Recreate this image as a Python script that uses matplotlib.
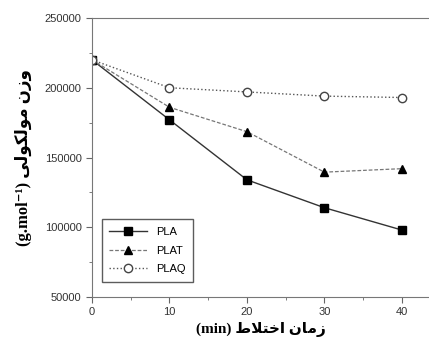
import matplotlib
matplotlib.use("Agg")
import matplotlib.pyplot as plt
from matplotlib.ticker import MultipleLocator

# data
mix_time = [0, 10, 20, 30, 40]
pla = [220000, 177000, 134000, 114000, 98000]
plat = [220000, 186000, 168500, 139500, 142000]
plaq = [220000, 200000, 197000, 194000, 193000]

# persian labels, pre-shaped (presentation forms) in visual order
ylab = "(g.mol\u207b\u00b9) " + "\ufbfd\ufedf\ufeee\ufb91\ufedf\ufeee\ufee3" + " " + "\ufee5\ufeaf\ufeed"
xlab = "(min) " + "\ufec1\ufefc\ufe98\ufea7\ufe8d" + " " + "\ufee5\ufe8e\ufee3\ufeaf"

fig = plt.figure(figsize=(4.29, 3.44), dpi=100)
ax = fig.add_axes([0.2145, 0.1366, 0.7855, 0.8111])

ax.plot(mix_time, pla, '-', color='#333333', lw=1.0, marker='s', ms=5.5,
        mfc='black', mec='black', label='PLA')
ax.plot(mix_time, plat, '--', color='#777777', lw=0.9, dashes=(3, 1.5), marker='^', ms=6,
        mfc='black', mec='black', label='PLAT')
ax.plot(mix_time, plaq, ':', color='#555555', lw=1.0, marker='o', ms=6,
        mfc='white', mec='#444444', label='PLAQ')

ax.set_xlim(0, 43.5)
ax.set_ylim(50000, 250000)
ax.xaxis.set_major_locator(MultipleLocator(10))
ax.xaxis.set_minor_locator(MultipleLocator(5))
ax.yaxis.set_major_locator(MultipleLocator(50000))
ax.yaxis.set_minor_locator(MultipleLocator(25000))
ax.tick_params(which='both', direction='out', colors='#666666', labelcolor='#333333',
               labelsize=8, top=False, right=False)
ax.tick_params(which='major', length=4)
ax.tick_params(which='minor', length=2.5)
for s in ['left', 'bottom', 'top']:
    ax.spines[s].set_color('#777777')
ax.spines['right'].set_visible(False)
for lab in ax.get_xticklabels() + ax.get_yticklabels():
    lab.set_family('Liberation Sans')

ax.set_xlabel(xlab, family=['Liberation Serif', 'DejaVu Sans'], fontweight='bold', fontsize=11, labelpad=3)
ax.set_ylabel(ylab, family=['Liberation Serif', 'DejaVu Sans'], fontweight='bold', fontsize=12, labelpad=9)

leg = ax.legend(loc='lower left', bbox_to_anchor=(0.012, 0.035), frameon=True,
                fancybox=False, edgecolor='#333333', handlelength=3.4, borderpad=0.7,
                labelspacing=0.75, prop={'family': 'Liberation Sans', 'size': 8})
leg.get_frame().set_linewidth(1.0)

fig.savefig("out.png", dpi=100)
